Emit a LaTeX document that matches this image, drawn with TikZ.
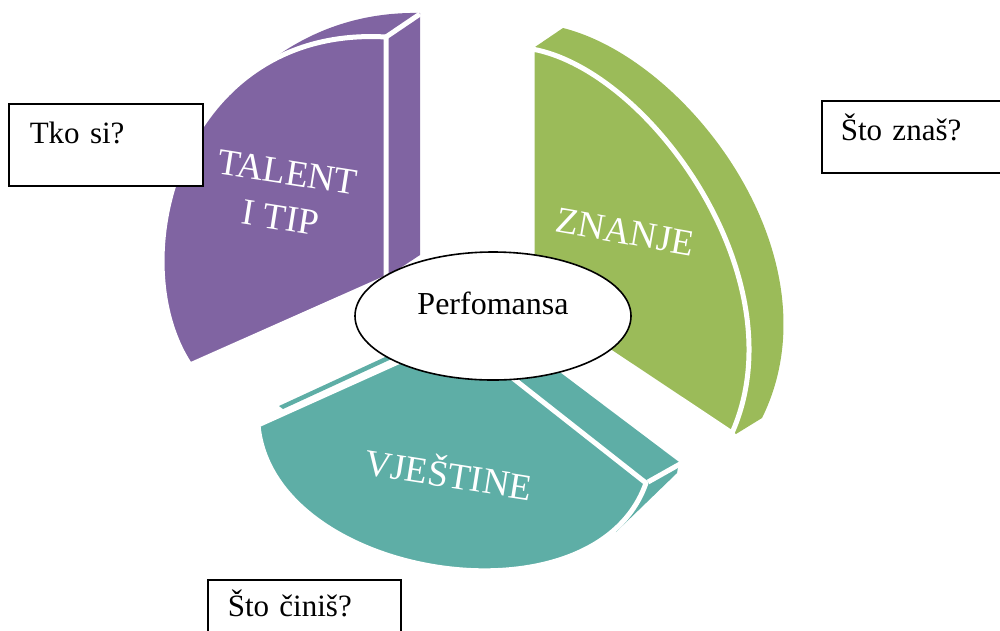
\documentclass[tikz,border=0pt]{standalone}
\usepackage{fontspec}
\setmainfont{Liberation Serif}
\usetikzlibrary{shapes.geometric}
\definecolor{talentpurple}{HTML}{8064A2}
\definecolor{znanjegreen}{HTML}{9BBB59}
\definecolor{vjestineteal}{HTML}{5EAEA6}

\begin{document}
\begin{tikzpicture}[x=1pt,y=-1pt,
    face/.style={draw=white,line width=5pt,line join=round},
    gap/.style={white,line width=5pt},
    pielabel/.style={text=white,font=\fontsize{37}{46}\selectfont,align=center},
    questionbox/.style={draw=black,line width=1.6pt,fill=white,anchor=north west,
      font=\fontsize{31}{37}\selectfont,align=left,inner ysep=18pt,text height=22pt}]
  \useasboundingbox (0,0) rectangle (1000,630);
  \clip (0,0) rectangle (1000,630);

  % talent i tip: rim and side first, front face on top
  \fill[talentpurple] (274,58) .. controls (320,25) and (370,12) .. (420,13)
    -- (420,255) -- (388,276) -- (330,150) -- cycle;
  \fill[talentpurple,face] (386,278) -- (190,365) .. controls (120,260) and (180,25) .. (386,37) -- cycle;
  \draw[gap] (386,37) -- (420,14);

  % znanje
  \fill[znanjegreen] (535,47) -- (563,28) .. controls (690,60) and (840,260) .. (762,418)
    -- (736,434) -- (600,300) -- cycle;
  \fill[znanjegreen,face] (532,300) -- (532,49) .. controls (650,70) and (800,280) .. (732,433) -- cycle;

  % vjestine
  \fill[vjestineteal] (279,406) -- (396,352) -- (398,356) -- (283,409) -- cycle;
  \fill[vjestineteal] (500,327) -- (679,462) -- (677,473) -- (616,532) -- (560,470)
    -- (460,340) -- cycle;
  \fill[vjestineteal,face] (458,335) -- (258,425) .. controls (272,580) and (595,630) .. (646,483) -- cycle;
  \draw[gap] (648,482) -- (680,464);

  \node[ellipse,draw=black,line width=1.6pt,fill=white,minimum width=276pt,minimum height=128pt,
    label={[font=\fontsize{32}{38}\selectfont,yshift=13pt]center:Perfomansa}] (perf) at (493,316) {};

  \node[pielabel,rotate=-9] (talent) at (284,195) {TALENT\\I TIP};
  \node[pielabel,rotate=-10] (znanje) at (625,232) {ZNANJE};
  \node[pielabel,rotate=-9] (vjestine) at (449,472) {VJEŠTINE};

  % question boxes
  \node[questionbox,inner xsep=21pt,text width=152pt,text depth=24pt] (tko) at (8,103) {Tko si?};
  \node[questionbox,inner xsep=19pt,text width=160pt,text depth=14pt] (zna) at (821,100) {Što znaš?};
  \node[questionbox,inner xsep=20pt,text width=153pt,text height=19pt,text depth=40pt] (cini) at (207,579) {Što činiš?};
\end{tikzpicture}
\end{document}
